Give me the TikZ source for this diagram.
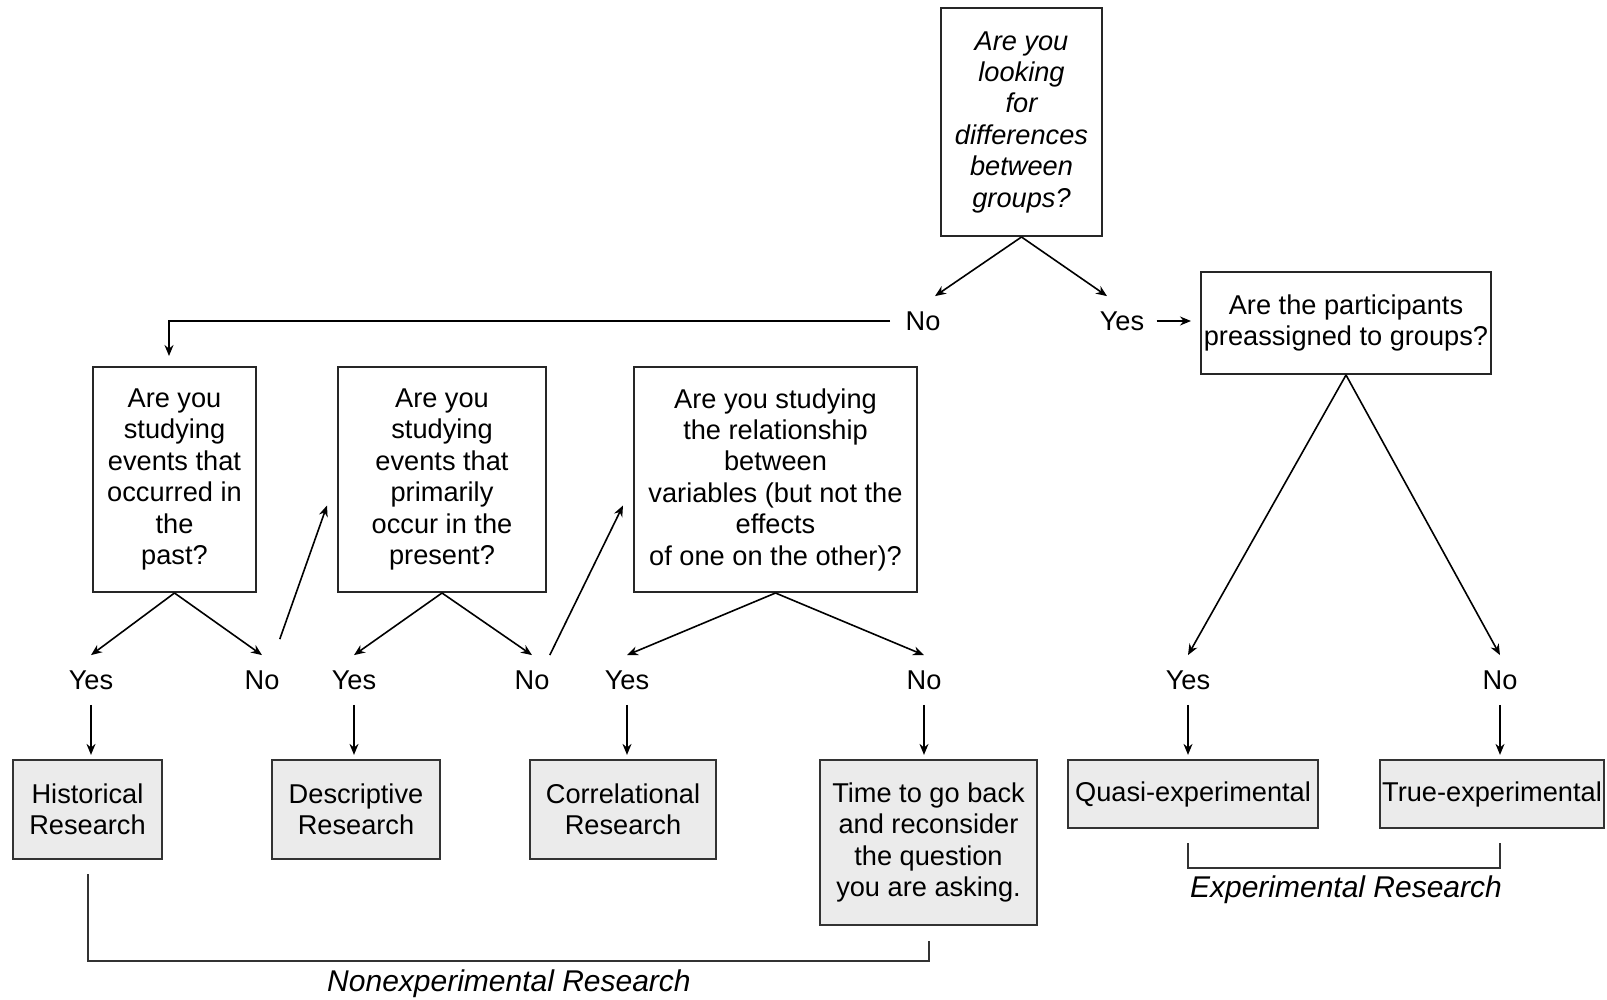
\documentclass[tikz,border=0pt]{standalone}
\usepackage{fontspec}
\setmainfont{Liberation Sans}
\usetikzlibrary{arrows.meta}

\tikzset{
  qbox/.style={draw=black!85, line width=1pt, fill=white, align=center, inner sep=0pt},
  rbox/.style={draw=black!80, line width=1.1pt, fill=black!8, align=center, inner sep=0pt},
  ans/.style={inner xsep=0pt, inner ysep=7.5pt},
  grp/.style={font=\fontsize{15pt}{18pt}\selectfont\itshape},
  arr/.style={-{Stealth[length=5.5pt,width=4.5pt]}, line width=0.8pt},
}

\begin{document}
\begin{tikzpicture}[x=0.5pt,y=-0.5pt,font=\fontsize{13.6pt}{15.7pt}\selectfont]
\useasboundingbox (0,0) rectangle (1607,1000);

%Question boxes
\node[qbox, minimum width=80.5pt, minimum height=114pt, font=\fontsize{13.6pt}{15.7pt}\selectfont\itshape] (q0) at (1021.5,122) {Are you\\looking\\for\\differences\\between\\groups?};
\node[qbox, minimum width=145pt, minimum height=51pt] (q1) at (1346,323) {Are the participants\\preassigned to groups?};
\node[qbox, minimum width=81.5pt, minimum height=112.5pt] (q2) at (174.5,479.5) {Are you\\studying\\events that\\occurred in\\the\\past?};
\node[qbox, minimum width=104pt, minimum height=112.5pt] (q3) at (442,479.5) {Are you\\studying\\events that\\primarily\\occur in the\\present?};
\node[qbox, minimum width=141.5pt, minimum height=112.5pt] (q4) at (775.5,479.5) {Are you studying\\the relationship\\between\\variables (but not the\\effects\\of one on the other)?};

%Answers
\node[ans] (n0) at (923,321) {No};
\node[ans] (y0) at (1122,321) {Yes};
\node[ans] (y1) at (91,680) {Yes};
\node[ans] (n1) at (262,680) {No};
\node[ans] (y2) at (354,680) {Yes};
\node[ans] (n2) at (532,680) {No};
\node[ans] (y3) at (627,680) {Yes};
\node[ans] (n3) at (924,680) {No};
\node[ans] (y4) at (1188,680) {Yes};
\node[ans] (n4) at (1500,680) {No};

%Result boxes
\node[rbox, minimum width=74.5pt, minimum height=49.5pt] (r1) at (87.5,809.5) {Historical\\Research};
\node[rbox, minimum width=84pt, minimum height=49.5pt] (r2) at (356,809.5) {Descriptive\\Research};
\node[rbox, minimum width=93pt, minimum height=49.5pt] (r3) at (623,809.5) {Correlational\\Research};
\node[rbox, minimum width=108.5pt, minimum height=82.5pt] (r4) at (928.5,842.5) {Time to go back\\and reconsider\\the question\\you are asking.};
\node[rbox, minimum width=125pt, minimum height=34pt] (r5) at (1193,794) {Quasi-experimental};
\node[rbox, minimum width=112pt, minimum height=34pt] (r6) at (1492,794) {True-experimental};

%Group labels
\node[grp] (nonexp) at (509,984) {Nonexperimental Research};
\node[grp] (exper) at (1346,890) {Experimental Research};

%Top split
\draw[arr] (q0.south) -- ([xshift=6pt]n0.north);
\draw[arr] (q0.south) -- ([xshift=-7.5pt]y0.north);
\draw[arr] ([xshift=6pt]y0.east) -- ([xshift=-4.5pt]y0.east -| q1.west);
\draw[arr] ([xshift=-7.5pt]n0.west) -| ([xshift=-2.75pt,yshift=5pt]q2.north);

%Left chain
\draw[arr] (q2.south) -- (y1.north);
\draw[arr] (q2.south) -- (n1.north);
\draw[arr] ([yshift=8pt]n1.north east) -- ([xshift=-5pt,yshift=-13pt]q3.west);
\draw[arr] (q3.south) -- (y2.north);
\draw[arr] (q3.south) -- (n2.north);
\draw[arr] (n2.north east) -- ([xshift=-5pt,yshift=-13pt]q4.west);
\draw[arr] (q4.south) -- (y3.north);
\draw[arr] (q4.south) -- (n3.north);

%Right split
\draw[arr] (q1.south) -- (y4.north);
\draw[arr] (q1.south) -- (n4.north);

%Down to results
\foreach \a/\r in {y1/r1, y2/r2, y3/r3, n3/r4, y4/r5, n4/r6}
  \draw[arr, shorten >=2pt] (\a.south) -- (\a.south |- \r.north);

%Brackets
\draw[line width=1pt, draw=black!80] ([yshift=-7pt]r1.south) -- ++(0,87) -| ([yshift=-7.5pt]r4.south);
\draw[line width=1pt, draw=black!80] ([yshift=-7pt]y4 |- r5.south) -- ++(0,25) -| ([yshift=-7pt]n4 |- r6.south);

\end{tikzpicture}
\end{document}
